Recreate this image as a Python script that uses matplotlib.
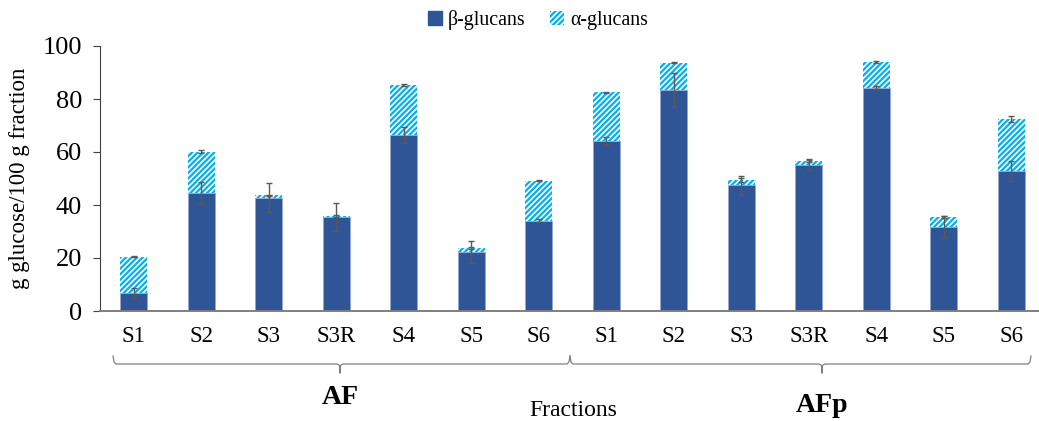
import matplotlib
matplotlib.use("Agg")
import matplotlib.pyplot as plt
import numpy as np
from matplotlib.patches import Patch

plt.rcParams['font.family'] = ['Liberation Serif', 'DejaVu Serif']
plt.rcParams['hatch.linewidth'] = 1.6
plt.rcParams['hatch.color'] = '#00B0F0'

fractions = ["S1", "S2", "S3", "S3R", "S4", "S5", "S6"]
groups = ["AF", "AFp"]

beta_AF = [6.8, 44.6, 42.8, 35.4, 66.4, 22.4, 34.1]
alpha_AF = [13.6, 15.5, 0.8, 0.5, 18.9, 1.3, 15.1]
beta_err_AF = [2.0, 4.1, 5.5, 5.2, 3.1, 4.1, 0.5]
alpha_err_AF = [0.2, 0.5, 0.3, 0.3, 0.5, 0.3, 0.2]

beta_AFp = [64.2, 83.3, 47.5, 55.2, 84.3, 31.7, 52.8]
alpha_AFp = [18.3, 10.4, 1.8, 1.5, 9.5, 3.8, 19.7]
beta_err_AFp = [1.5, 6.4, 3.6, 2.0, 0.5, 4.2, 3.7]
alpha_err_AFp = [0.3, 0.2, 0.8, 0.4, 0.4, 0.5, 1.0]

beta = np.array(beta_AF + beta_AFp)
alpha = np.array(alpha_AF + alpha_AFp)
beta_err = np.array(beta_err_AF + beta_err_AFp)
alpha_err = np.array(alpha_err_AF + alpha_err_AFp)
labels = fractions + fractions
x = np.arange(len(labels))

W, H = 1039, 421
fig = plt.figure(figsize=(W / 100, H / 100), dpi=100)
ax = fig.add_axes([100 / W, (H - 311) / H, 945 / W, 265 / H])

dark = '#2F5597'
bw = 0.4
ax.bar(x, beta, bw, color=dark, edgecolor='#8FA9D4', linewidth=0.6, zorder=2)
ax.bar(x, alpha, bw, bottom=beta, facecolor='white', edgecolor='#00B0F0',
       hatch='//////', linewidth=0, zorder=2)
ecol = '#595959'
ax.errorbar(x, beta, yerr=beta_err, fmt='none', ecolor=ecol, elinewidth=1.0,
            capsize=2.5, capthick=1.0, zorder=3)
ax.errorbar(x, beta + alpha, yerr=alpha_err, fmt='none', ecolor=ecol, elinewidth=1.0,
            capsize=2.5, capthick=1.0, zorder=3)

ax.set_xlim(-0.5, len(labels) - 0.5)
ax.set_ylim(0, 100)
ax.set_yticks([0, 20, 40, 60, 80, 100])
ax.set_xticks(x)
ax.set_xticklabels(labels)
ax.tick_params(axis='x', length=0, labelsize=16.5, pad=11)
ax.tick_params(axis='y', length=5, labelsize=19, pad=8, color='#404040', direction='out')
for s in ['top', 'right']:
    ax.spines[s].set_visible(False)
ax.spines['left'].set_color('#404040')
ax.spines['bottom'].set_color('#7f7f7f')
ax.spines['bottom'].set_linewidth(1.4)
ax.set_ylabel('g glucose/100 g fraction', fontsize=16.5, labelpad=9)

def px(xp, yp):
    return xp / W, (H - yp) / H

def brace(x0, x1, xm, y, col='#7f7f7f'):
    import matplotlib.lines as mlines
    r = 3
    xs = [x0, x0 + 1, x0 + r, xm - r, xm - 1, xm, xm, xm, xm + 1, xm + r, x1 - r, x1 - 1, x1]
    ys = [y - 8, y - 2, y, y, y + 1, y + 3, y + 9, y + 3, y + 1, y, y, y - 2, y - 8]
    fx = [a / W for a in xs]
    fy = [(H - b) / H for b in ys]
    fig.add_artist(mlines.Line2D(fx, fy, color=col, lw=0.9))

brace(113, 570, 340, 364)
brace(570, 1031, 822, 364)

fig.text(*px(340, 397), groups[0], ha='center', va='center', fontsize=20, fontweight='bold')
fig.text(*px(822, 405), groups[1], ha='center', va='center', fontsize=20, fontweight='bold')
fig.text(*px(573, 410), 'Fractions', ha='center', va='center', fontsize=17)

handles = [Patch(facecolor=dark, edgecolor=dark, label='β-glucans'),
           Patch(facecolor='white', edgecolor='#00B0F0', hatch='//////', linewidth=0, label='α-glucans')]
fig.legend(handles=handles, loc='center', bbox_to_anchor=px(538, 20), ncol=2, frameon=False,
           fontsize=14.3, handlelength=0.7, handleheight=0.7, columnspacing=1.25, handletextpad=0.3)

fig.savefig('out.png', dpi=100)
